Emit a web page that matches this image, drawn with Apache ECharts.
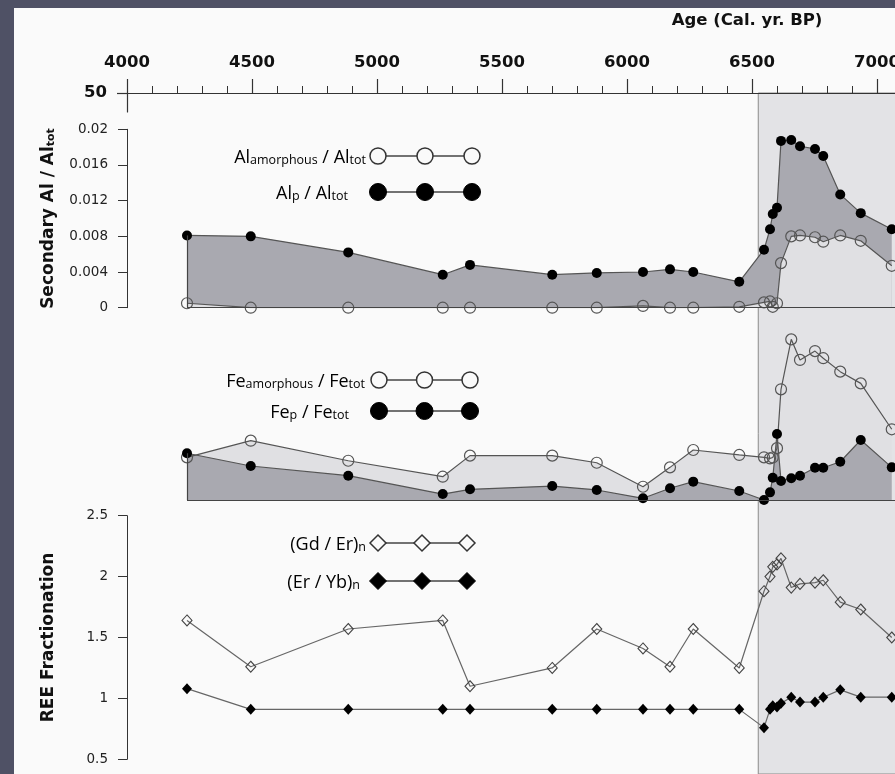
<!DOCTYPE html>
<html>
<head>
<meta charset="utf-8">
<script src="https://cdn.jsdelivr.net/npm/echarts@6/dist/echarts.min.js"></script>
<style>
  html, body { margin: 0; padding: 0; width: 100%; height: 100%; overflow: hidden; background: #4f5165; }
  #chart { position: absolute; left: 14px; top: 8px; width: 1100px; height: 766px; background: #fafafa; }
</style>
</head>
<body>
<div id="chart"></div>
<script>
// Sample ages (cal. yr BP), shared by all three profiles
const ages = [4240, 4495, 4885, 5263, 5372, 5701, 5879, 6064, 6172, 6265, 6449,
              6548, 6572, 6583, 6600, 6616, 6657, 6692, 6752, 6785, 6853, 6935, 7059];

// Secondary Al fractions
const alAmorphous = [0.0005, 0, 0, 0, 0, 0, 0, 0.0002, 0, 0, 0.0001,
                     0.0006, 0.0007, 0.0001, 0.0005, 0.0050, 0.0080, 0.0081, 0.0079, 0.0074, 0.0081, 0.0075, 0.0047];
const alP = [0.0081, 0.0080, 0.0062, 0.0037, 0.0048, 0.0037, 0.0039, 0.0040, 0.0043, 0.0040, 0.0029,
             0.0065, 0.0088, 0.0105, 0.0112, 0.0187, 0.0188, 0.0181, 0.0178, 0.0170, 0.0127, 0.0106, 0.0088];

// Secondary Fe fractions (relative scale, no axis drawn)
const feAmorphous = [0.251, 0.349, 0.231, 0.137, 0.261, 0.261, 0.219, 0.078, 0.192, 0.294, 0.265,
                     0.251, 0.245, 0.250, 0.305, 0.651, 0.945, 0.824, 0.876, 0.834, 0.755, 0.686, 0.416];
const feP = [0.275, 0.200, 0.143, 0.035, 0.063, 0.082, 0.059, 0.010, 0.069, 0.108, 0.053,
             0.000, 0.045, 0.131, 0.388, 0.112, 0.128, 0.143, 0.190, 0.190, 0.225, 0.353, 0.192];

// Normalised REE ratios
const gdEr = [1.64, 1.26, 1.57, 1.64, 1.10, 1.25, 1.57, 1.41, 1.26, 1.57, 1.25,
              1.88, 2.00, 2.08, 2.10, 2.15, 1.91, 1.94, 1.95, 1.97, 1.79, 1.73, 1.50];
const erYb = [1.08, 0.91, 0.91, 0.91, 0.91, 0.91, 0.91, 0.91, 0.91, 0.91, 0.91,
              0.76, 0.91, 0.94, 0.93, 0.96, 1.01, 0.97, 0.97, 1.01, 1.07, 1.01, 1.01];

// Axis settings
const ageMin = 4000, ageMax = 7500, ageStep = 500;
const shadeStart = 6525;
const depthLabel = 50;
const alTicks = { min: 0, max: 0.02, step: 0.004 };
const reeTicks = { min: 0.5, max: 2.5, step: 0.5 };

const BOLD_FONT = 'DejaVu Sans';
const TICK_FONT = 'DejaVu Sans';
const LEGEND_FONT = 'Open Sans';
const DARK_FILL = '#a9a9b0';
const LIGHT_FILL = '#e0e0e3';
const LINE_GREY = '#555';

const pairs = (vals) => ages.map((a, i) => [a, vals[i]]);

const GRID_LEFT = 113, GRID_WIDTH = 875;

function hiddenX(gridIndex) {
  return { type: 'value', gridIndex, min: ageMin, max: ageMax, show: false };
}

function baselineMarks(topVal) {
  return {
    silent: true,
    symbol: 'none',
    animation: false,
    label: { show: false },
    lineStyle: { color: '#444', width: 1.2, type: 'solid' },
    data: [
      [{ coord: [ages[0], 0] }, { coord: [ageMax, 0] }],
      [{ coord: [ages[0], 0] }, { coord: [ages[0], topVal] }]
    ]
  };
}

const openCircle = { color: 'rgba(0,0,0,0)', borderColor: '#555', borderWidth: 1.2 };

// Legend rows: label text, marker style, three connected markers
const legendRich = {
  m: { fontFamily: LEGEND_FONT, fontSize: 18, color: '#222', lineHeight: 22, verticalAlign: 'bottom' },
  s: { fontFamily: LEGEND_FONT, fontSize: 12.5, color: '#222', lineHeight: 14, verticalAlign: 'bottom' }
};

function legendRow(textRight, y, text, xs, marker, filled) {
  const els = [];
  els.push({
    type: 'text', x: textRight, y: y,
    style: { text, rich: legendRich, align: 'right', verticalAlign: 'middle' }
  });
  els.push({
    type: 'line', shape: { x1: xs[0], y1: y, x2: xs[xs.length - 1], y2: y },
    style: { stroke: '#444', lineWidth: 1.5 }
  });
  xs.forEach((x) => {
    const style = filled
      ? { fill: '#000', stroke: '#000', lineWidth: 1 }
      : { fill: '#fafafa', stroke: '#333', lineWidth: 1.5 };
    if (marker === 'circle') {
      els.push({ type: 'circle', shape: { cx: x, cy: y, r: filled ? 8.5 : 8 }, style });
    } else {
      const h = filled ? 8.5 : 8;
      els.push({ type: 'polygon', shape: { points: [[x, y - h], [x + h, y], [x, y + h], [x - h, y]] }, style });
    }
  });
  return els;
}

const legendX1 = [364, 411, 458];
const legendX2 = [365, 410.5, 456];
const legendX3 = [364, 408, 453];

const graphics = [
  {
    type: 'text', x: 733, y: 13,
    style: { text: 'Age (Cal. yr. BP)', fontFamily: BOLD_FONT, fontWeight: 'bold', fontSize: 16.5, fill: '#111', align: 'center', verticalAlign: 'middle' }
  },
  ...legendRow(352, 148, '{m|Al}{s|amorphous}{m| / Al}{s|tot}', legendX1, 'circle', false),
  ...legendRow(334, 184, '{m|Al}{s|p}{m| / Al}{s|tot}', legendX1, 'circle', true),
  ...legendRow(351, 372, '{m|Fe}{s|amorphous}{m| / Fe}{s|tot}', legendX2, 'circle', false),
  ...legendRow(335, 403, '{m|Fe}{s|p}{m| / Fe}{s|tot}', legendX2, 'circle', true),
  ...legendRow(352, 535, '{m|(Gd / Er)}{s|n}', legendX3, 'diamond', false),
  ...legendRow(346, 573, '{m|(Er / Yb)}{s|n}', legendX3, 'diamond', true)
];

const option = {
  animation: false,
  backgroundColor: '#fafafa',
  grid: [
    { left: GRID_LEFT, width: GRID_WIDTH, top: 85, height: 19 },        // age axis
    { left: GRID_LEFT, width: GRID_WIDTH, top: 121.3, height: 178.4 },  // Al
    { left: GRID_LEFT, width: GRID_WIDTH, top: 322, height: 170 },      // Fe
    { left: GRID_LEFT, width: GRID_WIDTH, top: 507.7, height: 243.6 },  // REE
    { left: GRID_LEFT, width: GRID_WIDTH, top: 85, bottom: 0 }          // shaded interval
  ],
  xAxis: [
    {
      type: 'value', gridIndex: 0, position: 'top',
      min: ageMin, max: ageMax, interval: ageStep,
      axisLine: { show: true, lineStyle: { color: '#333', width: 1.2 } },
      axisTick: { show: true, length: 14, lineStyle: { color: '#333', width: 1.2 } },
      minorTick: { show: true, splitNumber: 5, length: 7, lineStyle: { color: '#333', width: 1 } },
      axisLabel: {
        margin: 22, fontFamily: BOLD_FONT, fontWeight: 'bold', fontSize: 16.5, color: '#111',
        formatter: (v) => String(v)
      },
      splitLine: { show: false }
    },
    hiddenX(1), hiddenX(2), hiddenX(3), hiddenX(4)
  ],
  yAxis: [
    {
      type: 'value', gridIndex: 0, inverse: true, min: depthLabel, max: depthLabel + 1,
      axisLine: { show: true, lineStyle: { color: '#333', width: 1.2 } },
      axisTick: { show: true, length: 10, customValues: [depthLabel], lineStyle: { color: '#333', width: 1.2 } },
      axisLabel: { customValues: [depthLabel], margin: 20, fontFamily: BOLD_FONT, fontWeight: 'bold', fontSize: 16.5, color: '#111' },
      splitLine: { show: false }
    },
    {
      type: 'value', gridIndex: 1, min: alTicks.min, max: alTicks.max, interval: alTicks.step,
      name: '{b|Secondary Al / Al}{t|tot}',
      nameLocation: 'middle', nameGap: 70, nameRotate: 90,
      nameTextStyle: {
        rich: {
          b: { fontFamily: BOLD_FONT, fontWeight: 'bold', fontSize: 17, color: '#111', lineHeight: 22, verticalAlign: 'bottom' },
          t: { fontFamily: BOLD_FONT, fontWeight: 'bold', fontSize: 11, color: '#111', lineHeight: 14, verticalAlign: 'bottom' }
        }
      },
      axisLine: { show: true, lineStyle: { color: '#333', width: 1 } },
      axisTick: { show: true, length: 9, lineStyle: { color: '#333' } },
      axisLabel: {
        margin: 19, fontFamily: TICK_FONT, fontSize: 13.5, color: '#222',
        formatter: (v) => String(+v.toFixed(3))
      },
      splitLine: { show: false }
    },
    { type: 'value', gridIndex: 2, min: 0, max: 1, show: false },
    {
      type: 'value', gridIndex: 3, min: reeTicks.min, max: reeTicks.max, interval: reeTicks.step,
      name: 'REE Fractionation',
      nameLocation: 'middle', nameGap: 70, nameRotate: 90,
      nameTextStyle: { fontFamily: BOLD_FONT, fontWeight: 'bold', fontSize: 17, color: '#111' },
      axisLine: { show: true, lineStyle: { color: '#333', width: 1 } },
      axisTick: { show: true, length: 9, lineStyle: { color: '#333' } },
      axisLabel: { margin: 19, fontFamily: TICK_FONT, fontSize: 13.5, color: '#222' },
      splitLine: { show: false }
    },
    { type: 'value', gridIndex: 4, min: 0, max: 1, show: false }
  ],
  series: [
    {
      name: 'shaded interval', type: 'line', xAxisIndex: 4, yAxisIndex: 4, z: 0,
      data: [], silent: true,
      markArea: {
        silent: true, z: 0,
        itemStyle: { color: '#e3e3e6', borderColor: '#8a8a8a', borderWidth: 1 },
        data: [[{ xAxis: shadeStart }, { xAxis: ageMax }]]
      }
    },
    {
      name: 'Alp / Altot', type: 'line', xAxisIndex: 1, yAxisIndex: 1,
      data: pairs(alP),
      symbol: 'circle', symbolSize: 10,
      itemStyle: { color: '#000' },
      lineStyle: { color: LINE_GREY, width: 1.2 },
      areaStyle: { color: DARK_FILL, opacity: 1 },
      markLine: baselineMarks(alP[0])
    },
    {
      name: 'Alamorphous / Altot', type: 'line', xAxisIndex: 1, yAxisIndex: 1,
      data: pairs(alAmorphous),
      symbol: 'circle', symbolSize: 11,
      itemStyle: openCircle,
      lineStyle: { color: LINE_GREY, width: 1.2 },
      areaStyle: { color: LIGHT_FILL, opacity: 1 }
    },
    {
      name: 'Feamorphous / Fetot', type: 'line', xAxisIndex: 2, yAxisIndex: 2,
      data: pairs(feAmorphous),
      symbol: 'circle', symbolSize: 11,
      itemStyle: openCircle,
      lineStyle: { color: LINE_GREY, width: 1.2 },
      areaStyle: { color: LIGHT_FILL, opacity: 1 }
    },
    {
      name: 'Fep / Fetot', type: 'line', xAxisIndex: 2, yAxisIndex: 2,
      data: pairs(feP),
      symbol: 'circle', symbolSize: 10,
      itemStyle: { color: '#000' },
      lineStyle: { color: LINE_GREY, width: 1.2 },
      areaStyle: { color: DARK_FILL, opacity: 1 },
      markLine: baselineMarks(Math.max(feP[0], feAmorphous[0]))
    },
    {
      name: '(Gd / Er)n', type: 'line', xAxisIndex: 3, yAxisIndex: 3,
      data: pairs(gdEr),
      symbol: 'diamond', symbolSize: [10, 11],
      itemStyle: { color: 'rgba(0,0,0,0)', borderColor: '#444', borderWidth: 1.1 },
      lineStyle: { color: '#666', width: 1.2 }
    },
    {
      name: '(Er / Yb)n', type: 'line', xAxisIndex: 3, yAxisIndex: 3,
      data: pairs(erYb),
      symbol: 'diamond', symbolSize: [10, 11],
      itemStyle: { color: '#000' },
      lineStyle: { color: '#666', width: 1.2 }
    }
  ],
  graphic: graphics
};

const chart = echarts.init(document.getElementById('chart'), null, { renderer: 'canvas' });
chart.setOption(option);
</script>
</body>
</html>
